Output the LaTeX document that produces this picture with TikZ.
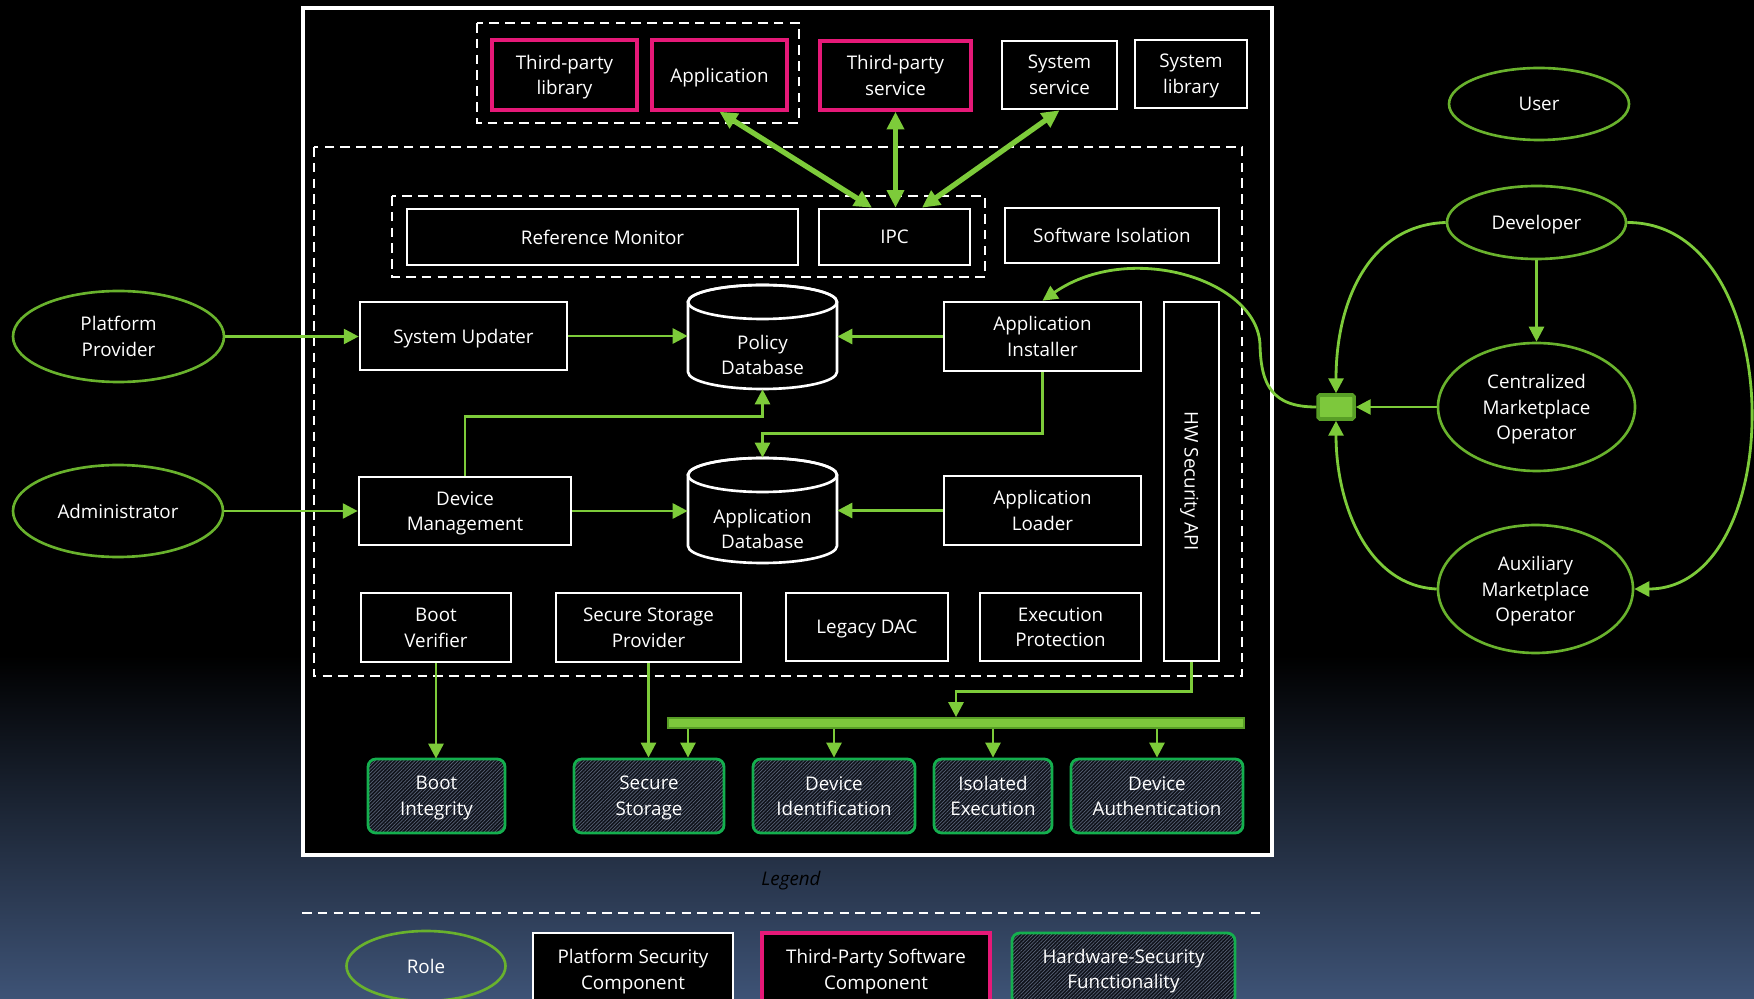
\documentclass[tikz,border=0pt]{standalone}
\usepackage{fontspec}
\setmainfont{Open Sans}
\usetikzlibrary{arrows.meta,patterns.meta,shapes.geometric,calc}

\definecolor{lime}{RGB}{125,203,58}
\definecolor{rolegreen}{RGB}{105,178,45}
\definecolor{hwgreen}{RGB}{20,175,78}
\definecolor{tpink}{RGB}{230,25,120}
\definecolor{hatchbg}{RGB}{15,18,26}
\definecolor{hatchline}{RGB}{88,98,118}
\definecolor{bgbottom}{RGB}{62,83,118}
\definecolor{busfill}{RGB}{125,200,60}
\definecolor{busedge}{RGB}{88,158,38}

% rectangular component placed by its corner pixels
\newcommand\cbox[7]{\node[#1, minimum width={(#5-#3)*0.02cm}, minimum height={(#6-#4)*0.02cm}] (#2) at ({(#3+#5)/2},{(#4+#6)/2}) {#7};}
% role ellipse placed by centre and size
\newcommand\rolenode[6]{\node[role, minimum width={#5*0.02cm}, minimum height={#6*0.02cm}] (#1) at (#2,#3) {#4};}

\tikzset{
  every node/.style={font=\fontsize{10.7}{14.6}\selectfont, text=white, align=center,
    inner sep=0pt, text depth=0pt},
  comp/.style={draw=white, line width=1.5pt, fill=black},
  tpcomp/.style={comp, draw=tpink, line width=2pt},
  hwfunc/.style={draw=hwgreen, line width=1.6pt, rounded corners=4.5pt,
    preaction={fill=hatchbg},
    pattern={Lines[angle=45,distance=1.45pt,line width=0.4pt]}, pattern color=hatchline},
  role/.style={ellipse, draw=rolegreen, line width=1.5pt},
  grp/.style={draw=white, line width=1.4pt, dash pattern=on 5.5pt off 3.5pt},
  link/.style={draw=lime, line width=1.6pt, -{Triangle[length=8.5pt,width=8.5pt]}},
  biglink/.style={draw=lime, line width=3pt,
    {Triangle[length=10pt,width=9.5pt]}-{Triangle[length=10pt,width=9.5pt]}},
}

\begin{document}
\begin{tikzpicture}[x=0.02cm, y=-0.02cm]
\useasboundingbox (0,0) rectangle (1754,999);

% backdrop: black fading into slate blue at the bottom
\fill[black] (0,0) rectangle (1754,999);
\shade[top color=black, bottom color=bgbottom] (0,655) rectangle (1754,999);

% platform frame
\draw[white, line width=2pt, fill=black] (303,8) rectangle (1272,855);

% groupings
\draw[grp] (477,23) rectangle (799,123);
\draw[grp] (314,147) rectangle (1242,676);
\draw[grp] (392,196) rectangle (985,277);

% top row of software
\cbox{tpcomp}{tplib}{492}{40}{637}{110}{Third-party\\library}
\cbox{tpcomp}{app}{652}{40}{787}{110}{Application}
\cbox{tpcomp}{tpsvc}{820}{41}{971}{110}{Third-party\\service}
\cbox{comp}{syssvc}{1002}{41}{1117}{109}{System\\service}
\cbox{comp}{syslib}{1135}{40}{1247}{108}{System\\library}

% platform security components
\cbox{comp}{refmon}{407}{209}{798}{265}{Reference Monitor}
\cbox{comp}{ipc}{819}{209}{970}{265}{IPC}
\cbox{comp}{swiso}{1005}{208}{1219}{263}{Software Isolation}
\cbox{comp}{sysupd}{360}{302}{567}{370}{System Updater}
\cbox{comp}{inst}{944}{302}{1141}{371}{Application\\Installer}
\cbox{comp}{devmgmt}{359}{477}{571}{545}{Device\\Management}
\cbox{comp}{loader}{944}{476}{1141}{545}{Application\\Loader}
\cbox{comp}{hwapi}{1164}{302}{1219}{661}{}
\node[rotate=-90] (hwapilabel) at (hwapi.center) {HW Security API};
\cbox{comp}{bootv}{361}{593}{511}{662}{Boot\\Verifier}
\cbox{comp}{ssp}{556}{593}{741}{662}{Secure Storage\\Provider}
\cbox{comp}{ldac}{786}{593}{948}{661}{Legacy DAC}
\cbox{comp}{exprot}{980}{593}{1141}{661}{Execution\\Protection}

% databases
\cbox{}{pdb}{688}{285}{837}{389}{}
\cbox{}{adb}{688}{458}{837}{563}{}
\foreach \top/\bot in {285/389, 458/563}{
  \draw[white, line width=1.5pt, fill=black]
    (688,\top+17) -- (688,\bot-17) arc[start angle=180, end angle=360, x radius=1.49cm, y radius=0.34cm]
    -- (837,\top+17) arc[start angle=0, end angle=180, x radius=1.49cm, y radius=0.34cm] -- cycle;
  \draw[white, line width=1.5pt] (762.5,\top+17) ellipse [x radius=1.49cm, y radius=0.34cm];
}
\node (pdblabel) at (762.5,355) {Policy\\Database};
\node (adblabel) at (762.5,529) {Application\\Database};

% hardware security functionality
\cbox{hwfunc}{bootint}{368}{759}{505}{833}{Boot\\Integrity}
\cbox{hwfunc}{secst}{574}{759}{724}{833}{Secure\\Storage}
\cbox{hwfunc}{devid}{753}{759}{915}{833}{Device\\Identification}
\cbox{hwfunc}{isoex}{934}{759}{1052}{833}{Isolated\\Execution}
\cbox{hwfunc}{devauth}{1071}{759}{1243}{833}{Device\\Authentication}
\cbox{draw=busedge, line width=1pt, fill=busfill}{bus}{668}{718}{1244}{728}{}

% roles
\rolenode{pp}{118.5}{336.5}{Platform\\Provider}{211}{91}
\rolenode{admin}{118}{511}{Administrator}{210}{92}
\rolenode{user}{1539}{104}{User}{180}{72}
\rolenode{dev}{1536.5}{222.5}{Developer}{179}{73}
\rolenode{cmo}{1536.5}{407}{Centralized\\Marketplace\\Operator}{197}{128}
\rolenode{amo}{1535.5}{589}{Auxiliary\\Marketplace\\Operator}{195}{128}
\cbox{draw=busedge, line width=2pt, fill=busfill, rounded corners=1pt}{sq}{1318}{395}{1354}{419}{}

% IPC channels
\draw[biglink] (app.south) -- ([xshift=-0.45cm]ipc.north);
\draw[biglink] (tpsvc.south) -- (tpsvc.south |- ipc.north);
\draw[biglink] (syssvc.south) -- ([xshift=0.55cm]ipc.north);

% data flows
\draw[link] (pp.east) -- (pp.east -| sysupd.west);
\draw[link] (admin.east) -- (admin.east -| devmgmt.west);
\draw[link] (sysupd.east) -- (sysupd.east -| pdb.west);
\draw[link] (inst.west) -- (inst.west -| pdb.east);
\draw[link] (devmgmt.east) -- (devmgmt.east -| adb.west);
\draw[link] (loader.west) -- (loader.west -| adb.east);
\draw[link] (devmgmt.north) -- ++(0,-59) -| (pdb.south);
\draw[link] (inst.south) -- ++(0,61) -| (adb.north);
\draw[link] (hwapi.south) -- ++(0,29) -| (bus.north);
\draw[link] (bootv.south) -- (bootv.south |- bootint.north);
\draw[link] (ssp.south) -- (ssp.south |- secst.north);
\draw[link] ([xshift=0.78cm]secst.north |- bus.south) -- ([xshift=0.78cm]secst.north);
\draw[link] (devid.north |- bus.south) -- (devid.north);
\draw[link] (isoex.north |- bus.south) -- (isoex.north);
\draw[link] (devauth.north |- bus.south) -- (devauth.north);

% marketplace flows
\draw[link] (dev.south) -- (cmo.north);
\draw[link] (cmo.west) -- (sq.east);
\draw[link] (dev.west) .. controls (1370,225) and (1336,300) .. (sq.north);
\draw[link] (amo.west) .. controls (1368,586) and (1336,505) .. (sq.south);
\draw[link] (dev.east) .. controls (1790,222) and (1790,589) .. (amo.east);
\draw[link] (sq.west) .. controls (1272,407) and (1261,385) .. (1260,345)
  .. controls (1258,280) and (1130,240) .. (inst.north);

% legend
\node[font=\fontsize{10.7}{14.6}\selectfont\itshape, text=black] (legend) at (791,878) {Legend};
\draw[grp] (302,913) -- (1266,913);
\rolenode{lrole}{426}{966}{Role}{159}{70}
\cbox{comp}{lpsc}{533}{933}{733}{1005}{Platform Security\\Component}
\cbox{tpcomp}{ltpsc}{762}{933}{990}{1005}{Third-Party Software\\Component}
\cbox{hwfunc}{lhsf}{1012}{933}{1235}{1005}{Hardware-Security\\Functionality}
\end{tikzpicture}
\end{document}
